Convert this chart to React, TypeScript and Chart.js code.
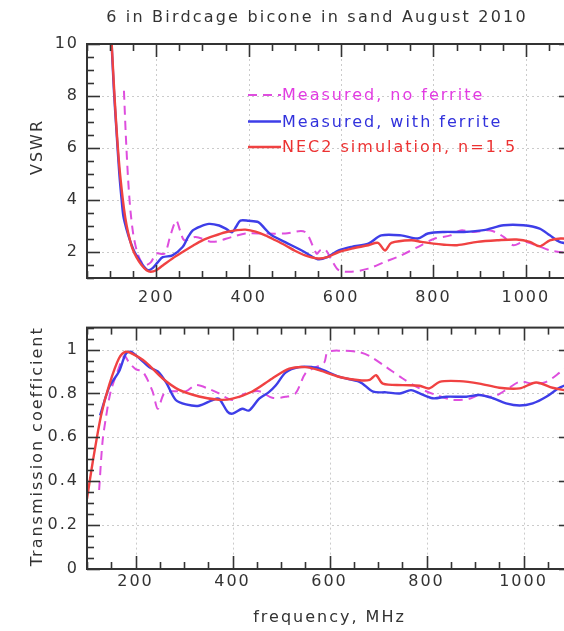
import React, { useEffect, useRef } from 'react';
import { Chart, registerables } from 'chart.js';

Chart.register(...registerables);

// ---------- text ----------
const TITLE = '6 in Birdcage bicone in sand August 2010';
const X_TITLE = 'frequency, MHz';
const Y_TITLE_TOP = 'VSWR';
const Y_TITLE_BOTTOM = 'Transmission coefficient';
const LEGEND_LABELS = ['Measured, no ferrite', 'Measured, with ferrite', 'NEC2 simulation, n=1.5'];

// ---------- ticks ----------
const FREQ_TICKS = [200, 400, 600, 800, 1000];
const VSWR_TICKS = [2, 4, 6, 8, 10];
const TRANS_TICKS = [0, 0.2, 0.4, 0.6, 0.8, 1];

// ---------- data: VSWR (top panel) [MHz, VSWR] ----------
const vswrNoFerrite: [number, number][] = [
  [130, 8.2], [134, 6.5], [139, 4.8], [144, 3.6], [150, 2.7], [157, 2.1], [165, 1.7], [175, 1.49],
  [188, 1.6], [200, 1.94], [218, 1.94], [230, 2.6], [243, 3.21], [252, 2.8], [261, 2.45], [285, 2.58],
  [322, 2.39], [364, 2.58], [393, 2.71], [436, 2.71], [479, 2.71], [522, 2.77], [547, 1.94], [556, 2.08],
  [566, 2.1], [580, 1.68], [595, 1.3], [623, 1.24], [659, 1.36], [695, 1.62], [730, 1.87], [766, 2.19],
  [802, 2.51], [837, 2.64], [859, 2.83], [888, 2.77], [923, 2.83], [952, 2.58], [973, 2.26], [995, 2.39],
  [1023, 2.26], [1052, 2.06], [1073, 2.0], [1100, 1.95],
];
const vswrWithFerrite: [number, number][] = [
  [102, 10.5], [108, 8.3], [114, 6.6], [120, 5.0], [125, 4.0], [129, 3.35], [136, 2.85], [143, 2.45],
  [153, 2.0], [164, 1.68], [174, 1.42], [182, 1.3], [192, 1.38], [203, 1.6], [214, 1.8], [235, 1.87],
  [257, 2.19], [268, 2.55], [279, 2.83], [295, 2.98], [314, 3.08], [336, 3.02], [352, 2.88], [364, 2.76],
  [373, 2.98], [382, 3.21], [400, 3.2], [421, 3.15], [436, 2.88], [450, 2.64], [479, 2.38], [515, 2.06],
  [550, 1.72], [570, 1.8], [595, 2.06], [623, 2.2], [659, 2.32], [687, 2.64], [730, 2.64], [766, 2.52],
  [788, 2.71], [823, 2.77], [866, 2.77], [909, 2.84], [952, 3.03], [995, 3.03], [1030, 2.9], [1052, 2.64],
  [1073, 2.39], [1100, 2.3],
];
const vswrNec2: [number, number][] = [
  [102, 10.5], [108, 8.5], [113, 7.0], [120, 5.3], [127, 4.1], [133, 3.3], [139, 2.75], [148, 2.15],
  [157, 1.8], [168, 1.5], [179, 1.3], [188, 1.24], [200, 1.3], [214, 1.48], [235, 1.75], [257, 2.0],
  [280, 2.25], [300, 2.45], [325, 2.62], [350, 2.76], [375, 2.84], [393, 2.86], [415, 2.78], [436, 2.64],
  [458, 2.45], [479, 2.26], [500, 2.05], [522, 1.87], [550, 1.75], [570, 1.8], [595, 2.0], [623, 2.13],
  [659, 2.26], [680, 2.35], [695, 2.06], [709, 2.35], [752, 2.45], [774, 2.39], [800, 2.32], [823, 2.28],
  [851, 2.26], [895, 2.39], [938, 2.45], [980, 2.48], [1009, 2.39], [1030, 2.22], [1052, 2.45], [1075, 2.52],
  [1100, 2.5],
];

// ---------- data: transmission coefficient (bottom panel) [MHz, T] ----------
const transNoFerrite: [number, number][] = [
  [125, 0.36], [132, 0.58], [139, 0.69], [149, 0.81], [163, 0.9], [177, 0.97], [187, 0.94], [201, 0.91],
  [215, 0.9], [235, 0.81], [246, 0.73], [259, 0.8], [276, 0.81], [304, 0.81], [324, 0.838], [352, 0.82],
  [372, 0.8], [400, 0.77], [427, 0.8], [455, 0.81], [482, 0.78], [510, 0.785], [530, 0.8], [551, 0.894],
  [572, 0.92], [589, 0.94], [596, 0.988], [621, 0.995], [662, 0.988], [683, 0.97], [717, 0.92], [751, 0.868],
  [786, 0.823], [820, 0.793], [854, 0.771], [889, 0.776], [909, 0.793], [937, 0.785], [964, 0.816],
  [992, 0.853], [1019, 0.845], [1047, 0.853], [1081, 0.905], [1100, 0.93],
];
const transWithFerrite: [number, number][] = [
  [127, 0.7], [146, 0.83], [166, 0.9], [180, 0.98], [190, 0.99], [208, 0.96], [228, 0.92], [246, 0.9],
  [263, 0.85], [283, 0.77], [304, 0.75], [331, 0.744], [359, 0.77], [372, 0.776], [390, 0.716], [400, 0.708],
  [420, 0.73], [434, 0.722], [455, 0.776], [475, 0.806], [489, 0.836], [510, 0.896], [537, 0.92], [565, 0.92],
  [580, 0.913], [621, 0.875], [662, 0.853], [690, 0.808], [717, 0.805], [745, 0.8], [768, 0.815], [786, 0.8],
  [813, 0.778], [841, 0.785], [882, 0.785], [909, 0.793], [937, 0.778], [964, 0.755], [992, 0.745],
  [1019, 0.755], [1047, 0.785], [1074, 0.826], [1100, 0.85],
];
const transNec2: [number, number][] = [
  [100, 0.32], [112, 0.49], [129, 0.7], [146, 0.84], [166, 0.96], [180, 0.99], [194, 0.98], [221, 0.943],
  [256, 0.868], [290, 0.816], [331, 0.786], [372, 0.771], [400, 0.776], [441, 0.809], [482, 0.868],
  [517, 0.913], [551, 0.92], [580, 0.905], [621, 0.875], [662, 0.86], [683, 0.862], [696, 0.883],
  [710, 0.845], [751, 0.838], [786, 0.835], [806, 0.823], [827, 0.853], [868, 0.856], [909, 0.845],
  [950, 0.826], [992, 0.823], [1026, 0.85], [1060, 0.826], [1081, 0.816], [1100, 0.81],
];

// ---------- styling ----------
const FONT_FAMILY = '"DejaVu Sans", sans-serif';
const FONT_SIZE = 16;
const TEXT = '#333333';
const MAGENTA = 'rgb(222, 78, 222)';
const BLUE = 'rgb(62, 62, 232)';
const RED = 'rgb(240, 66, 66)';
const MAGENTA_TEXT = 'rgb(226, 60, 226)';
const BLUE_TEXT = 'rgb(50, 50, 220)';
const RED_TEXT = 'rgb(236, 50, 50)';

const toXY = (pts: [number, number][]) => pts.map(([x, y]) => ({ x, y }));
const font = { family: FONT_FAMILY, size: FONT_SIZE };

const spacingPlugin = {
  id: 'spacing',
  beforeDraw(chart: any) {
    chart.ctx.letterSpacing = '2px';
  },
};

function framePlugin(xStep: number, yStep: number, xMajor: number[], yMajor: number[], yTitle: string, yTitleOffset: number) {
  const isMajor = (v: number, list: number[]) => list.some((m) => Math.abs(m - v) < 1e-6);
  return {
    id: 'frame',
    beforeDatasetsDraw(chart: any) {
      const { ctx, chartArea: a, scales } = chart;
      const x = scales.x;
      const y = scales.y;
      ctx.save();
      ctx.strokeStyle = 'rgba(160,160,160,0.55)';
      ctx.lineWidth = 1;
      ctx.setLineDash([2, 3]);
      xMajor.forEach((v) => {
        if (v <= x.min || v >= x.max) return;
        const px = Math.round(x.getPixelForValue(v)) + 0.5;
        ctx.beginPath();
        ctx.moveTo(px, a.top);
        ctx.lineTo(px, a.bottom);
        ctx.stroke();
      });
      yMajor.forEach((v) => {
        if (v <= y.min || v >= y.max) return;
        const py = Math.round(y.getPixelForValue(v)) + 0.5;
        ctx.beginPath();
        ctx.moveTo(a.left, py);
        ctx.lineTo(a.right, py);
        ctx.stroke();
      });
      ctx.restore();
    },
    afterDraw(chart: any) {
      const { ctx, chartArea: a, scales } = chart;
      const x = scales.x;
      const y = scales.y;
      ctx.save();
      ctx.setLineDash([]);
      ctx.strokeStyle = '#333333';
      ctx.lineWidth = 1.6;
      const i0 = Math.ceil(x.min / xStep - 1e-9);
      const i1 = Math.floor(x.max / xStep + 1e-9);
      for (let i = i0; i <= i1; i++) {
        const v = i * xStep;
        const len = isMajor(v, xMajor) ? 13 : 7;
        const px = Math.round(x.getPixelForValue(v)) + 0.5;
        ctx.beginPath();
        ctx.moveTo(px, a.bottom);
        ctx.lineTo(px, a.bottom - len);
        ctx.stroke();
        ctx.beginPath();
        ctx.moveTo(px, a.top);
        ctx.lineTo(px, a.top + len);
        ctx.stroke();
      }
      const j0 = Math.ceil(y.min / yStep - 1e-9);
      const j1 = Math.floor(y.max / yStep + 1e-9);
      for (let j = j0; j <= j1; j++) {
        const v = j * yStep;
        const len = isMajor(v, yMajor) ? 13 : 7;
        const py = Math.round(y.getPixelForValue(v)) + 0.5;
        ctx.beginPath();
        ctx.moveTo(a.left, py);
        ctx.lineTo(a.left + len, py);
        ctx.stroke();
        ctx.beginPath();
        ctx.moveTo(a.right, py);
        ctx.lineTo(a.right - len, py);
        ctx.stroke();
      }
      ctx.lineWidth = 2;
      ctx.strokeRect(a.left, a.top, a.right - a.left, a.bottom - a.top);

      // y-axis title
      (ctx as any).letterSpacing = '2px';
      ctx.font = `${FONT_SIZE}px ${FONT_FAMILY}`;
      ctx.fillStyle = TEXT;
      ctx.textAlign = 'center';
      ctx.textBaseline = 'middle';
      ctx.translate(38, (a.top + a.bottom) / 2 + yTitleOffset);
      ctx.rotate(-Math.PI / 2);
      ctx.fillText(yTitle, 0, 0);
      ctx.restore();
    },
  };
}

const titlePlugin = {
  id: 'mainTitle',
  afterDraw(chart: any) {
    const { ctx } = chart;
    ctx.save();
    (ctx as any).letterSpacing = '2.2px';
    ctx.font = `${FONT_SIZE}px ${FONT_FAMILY}`;
    ctx.fillStyle = TEXT;
    ctx.textAlign = 'center';
    ctx.textBaseline = 'middle';
    ctx.fillText(TITLE, 317, 18);
    ctx.restore();
  },
};

const legendPlugin = {
  id: 'insideLegend',
  afterDraw(chart: any) {
    const { ctx, chartArea: a } = chart;
    const rows = [
      { ds: chart.data.datasets[2], label: LEGEND_LABELS[0], color: MAGENTA_TEXT, dy: 51 },
      { ds: chart.data.datasets[1], label: LEGEND_LABELS[1], color: BLUE_TEXT, dy: 77.5 },
      { ds: chart.data.datasets[0], label: LEGEND_LABELS[2], color: RED_TEXT, dy: 103 },
    ];
    ctx.save();
    (ctx as any).letterSpacing = '2px';
    ctx.font = `${FONT_SIZE}px ${FONT_FAMILY}`;
    ctx.textAlign = 'left';
    ctx.textBaseline = 'middle';
    rows.forEach((r) => {
      const yy = a.top + r.dy;
      ctx.save();
      ctx.strokeStyle = r.ds.borderColor;
      ctx.lineWidth = r.ds.borderWidth;
      ctx.setLineDash(r.ds.borderDash || []);
      ctx.beginPath();
      ctx.moveTo(a.left + 161, yy);
      ctx.lineTo(a.left + 194, yy);
      ctx.stroke();
      ctx.restore();
      ctx.fillStyle = r.color;
      ctx.fillText(r.label, a.left + 195, yy + 1);
    });
    ctx.restore();
  },
};

function makeDatasets(nec2: [number, number][], withF: [number, number][], noF: [number, number][]) {
  return [
    { label: LEGEND_LABELS[2], data: toXY(nec2), borderColor: RED, borderWidth: 2.4, pointRadius: 0, tension: 0.3, fill: false },
    { label: LEGEND_LABELS[1], data: toXY(withF), borderColor: BLUE, borderWidth: 2.4, pointRadius: 0, tension: 0.3, fill: false },
    { label: LEGEND_LABELS[0], data: toXY(noF), borderColor: MAGENTA, borderWidth: 2, borderDash: [9, 6], pointRadius: 0, tension: 0.3, fill: false },
  ];
}

function baseX(min: number, max: number, height: number, pad: number, title?: string) {
  return {
    type: 'linear',
    min,
    max,
    grid: { display: false, drawTicks: false },
    border: { display: false },
    afterBuildTicks: (s: any) => {
      s.ticks = FREQ_TICKS.map((value) => ({ value }));
    },
    afterFit: (s: any) => {
      s.height = height;
    },
    ticks: { font, color: TEXT, padding: pad, maxRotation: 0, autoSkip: false, callback: (v: any) => String(v) },
    title: title
      ? { display: true, text: title, font, color: TEXT, padding: { top: 0, bottom: 4 } }
      : { display: false },
  };
}

function baseY(min: number, max: number, tickList: number[]) {
  return {
    type: 'linear',
    min,
    max,
    grid: { display: false, drawTicks: false },
    border: { display: false },
    afterBuildTicks: (s: any) => {
      s.ticks = tickList.map((value) => ({ value }));
    },
    afterFit: (s: any) => {
      s.width = 87;
    },
    ticks: { font, color: TEXT, padding: 8, autoSkip: false, callback: (v: any) => String(v) },
    title: { display: false },
  };
}

export default function App() {
  const topRef = useRef<HTMLCanvasElement>(null);
  const botRef = useRef<HTMLCanvasElement>(null);

  useEffect(() => {
    const top = new Chart(topRef.current as HTMLCanvasElement, {
      type: 'line',
      data: { datasets: makeDatasets(vswrNec2, vswrWithFerrite, vswrNoFerrite) as any },
      options: {
        animation: false,
        responsive: false,
        devicePixelRatio: 1,
        layout: { padding: { top: 44, right: 28, left: 0, bottom: 0 } },
        plugins: { legend: { display: false }, tooltip: { enabled: false }, title: { display: false } },
        scales: {
          x: baseX(50, 1100, 32, 10) as any,
          y: baseY(1, 10, VSWR_TICKS) as any,
        },
      },
      plugins: [spacingPlugin, framePlugin(50, 0.5, FREQ_TICKS, VSWR_TICKS, Y_TITLE_TOP, -14), legendPlugin, titlePlugin],
    });

    const bottom = new Chart(botRef.current as HTMLCanvasElement, {
      type: 'line',
      data: { datasets: makeDatasets(transNec2, transWithFerrite, transNoFerrite) as any },
      options: {
        animation: false,
        responsive: false,
        devicePixelRatio: 1,
        layout: { padding: { top: 14, right: 28, left: 0, bottom: 0 } },
        plugins: { legend: { display: false }, tooltip: { enabled: false }, title: { display: false } },
        scales: {
          x: baseX(100, 1100, 62, 3, X_TITLE) as any,
          y: baseY(0, 1.1, TRANS_TICKS) as any,
        },
      },
      plugins: [spacingPlugin, framePlugin(50, 0.05, FREQ_TICKS, TRANS_TICKS, Y_TITLE_BOTTOM, -2)],
    });

    return () => {
      top.destroy();
      bottom.destroy();
    };
  }, []);

  return (
    <div
      style={{
        position: 'fixed',
        left: 0,
        top: 0,
        width: 564,
        height: 631,
        overflow: 'hidden',
        background: '#ffffff',
      }}
    >
      <canvas
        ref={topRef}
        width={600}
        height={310}
        style={{ position: 'absolute', left: 0, top: 0, width: 600, height: 310, display: 'block' }}
      />
      <canvas
        ref={botRef}
        width={600}
        height={321}
        style={{ position: 'absolute', left: 0, top: 310, width: 600, height: 321, display: 'block' }}
      />
    </div>
  );
}
